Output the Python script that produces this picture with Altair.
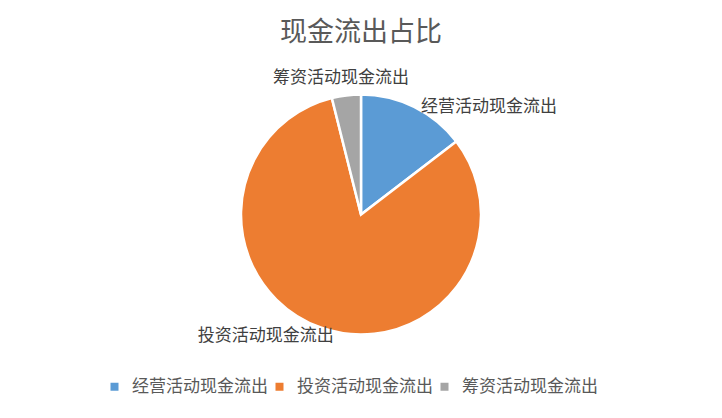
import altair as alt
import pandas as pd

categories = ["经营活动现金流出", "投资活动现金流出", "筹资活动现金流出"]
values = [14.6, 81.5, 3.9]
colors = ["#5B9BD5", "#ED7D31", "#A5A5A5"]

df = pd.DataFrame({"category": categories, "value": values})

FONT = "Noto Sans CJK SC"

base = alt.Chart(df).transform_window(
    rank="row_number()"
)

pie = base.mark_arc(outerRadius=120, stroke="white", strokeWidth=2.5).encode(
    theta=alt.Theta("value:Q", stack=True),
    color=alt.Color(
        "category:N",
        scale=alt.Scale(domain=categories, range=colors),
        legend=alt.Legend(
            title=None,
            orient="none",
            direction="horizontal",
            legendX=98,
            legendY=331,
            symbolType="square",
            symbolSize=64,
            symbolStrokeWidth=0,
            labelFont=FONT,
            labelFontSize=17,
            labelColor="#595959",
            labelOffset=9,
            columnPadding=3,
        ),
    ),
    order=alt.Order("rank:Q"),
)


def label_layer(cat, dx, dy):
    return base.mark_text(
        radius=140, dx=dx, dy=dy, font=FONT, fontSize=17, color="#404040",
        align="center", baseline="middle",
    ).encode(
        theta=alt.Theta("value:Q", stack=True),
        order=alt.Order("rank:Q"),
        text=alt.condition(
            alt.datum.category == cat, alt.Text("category:N"), alt.value("")
        ),
    )


labels = [
    label_layer(categories[0], 66, 18),
    label_layer(categories[1], -49, -11),
    label_layer(categories[2], -3, 2),
]

chart = alt.layer(pie, *labels).properties(
    width=706,
    height=335,
    title=alt.TitleParams(
        "现金流出占比", font=FONT, fontSize=27, fontWeight="normal",
        color="#595959", anchor="middle", offset=0,
    ),
    padding={"left": 0, "right": 0, "top": 11, "bottom": 12},
    background="white",
).configure_view(stroke=None)

chart.save("out.html", embed_options={"renderer": "svg", "actions": False})
